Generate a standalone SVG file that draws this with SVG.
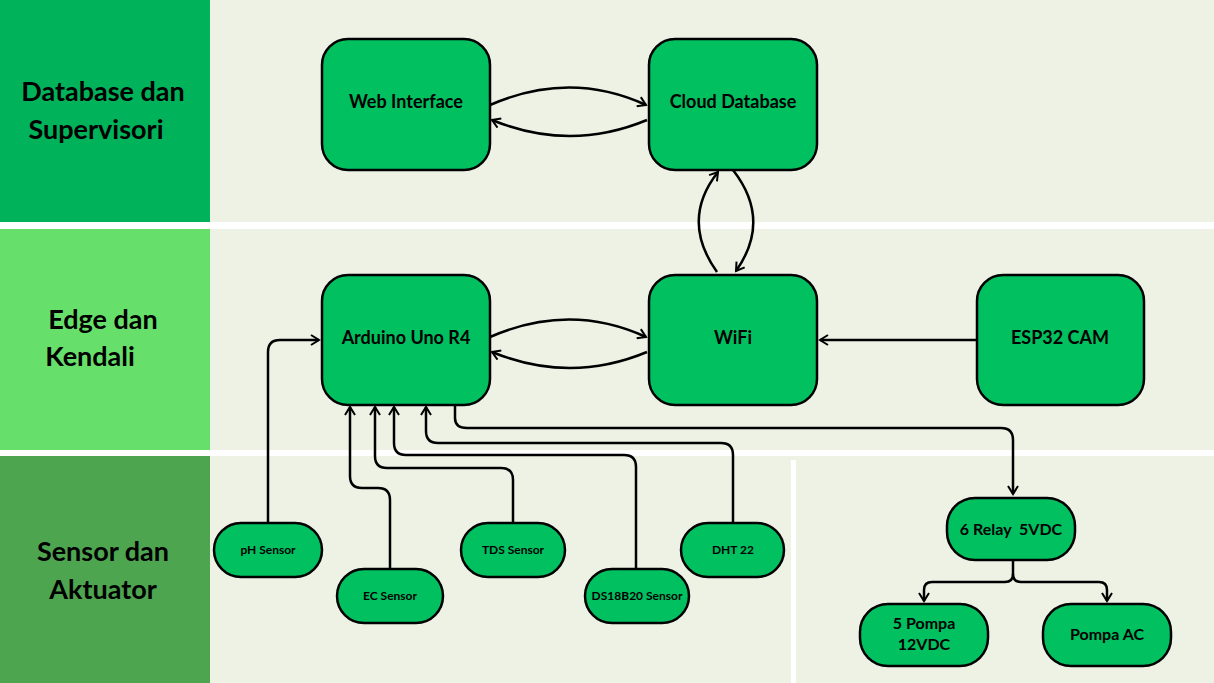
<svg xmlns="http://www.w3.org/2000/svg" width="1214" height="683" viewBox="0 0 1214 683">
<style>
.n{fill:#00c060;stroke:#000;stroke-width:2.5}
.t{font-family:Lato,"Open Sans",sans-serif;font-weight:bold;fill:#000;text-anchor:middle}
.big{font-size:18px}.sm{font-size:12px}.band{font-size:27px}
.c path{fill:none;stroke:#000;stroke-width:2.5}
</style>
<defs><marker id="a" viewBox="0 0 10 10" refX="8" refY="5" markerWidth="5" markerHeight="5" orient="auto-start-reverse" markerUnits="userSpaceOnUse"><path d="M1 1L8 5L1 9" fill="none" stroke="#000" stroke-width="2"/></marker>
<marker id="m" viewBox="0 0 12 12" refX="10" refY="6" markerWidth="12" markerHeight="12" orient="auto" markerUnits="userSpaceOnUse"><path d="M2 1L10 6L2 11" fill="none" stroke="#000" stroke-width="2"/></marker></defs>
<rect width="1214" height="683" fill="#eef2e4"/>
<rect x="0" y="0" width="210" height="222" fill="#00b35a"/>
<rect x="0" y="229" width="210" height="221" fill="#66e06a"/>
<rect x="0" y="456" width="210" height="227" fill="#4ea550"/>
<rect x="0" y="222" width="1214" height="7" fill="#fff"/>
<rect x="0" y="450" width="1214" height="6" fill="#fff"/>
<rect x="791" y="460" width="5" height="223" fill="#fff"/>
<text class="t band" x="103" y="101">Database dan</text><text class="t band" x="96" y="139">Supervisori</text>
<text class="t band" x="103" y="329">Edge dan</text><text class="t band" x="90" y="366">Kendali</text>
<text class="t band" x="103" y="561">Sensor dan</text><text class="t band" x="103" y="599">Aktuator</text>
<g class="c">
<path d="M490 105Q570 70 646 105" marker-end="url(#m)"/>
<path d="M647 120Q570 152 492 120" marker-end="url(#m)"/>
<path d="M490 337Q570 302 646 337" marker-end="url(#m)"/>
<path d="M647 352Q570 384 492 352" marker-end="url(#m)"/>
<path d="M717 272Q680 220 718 172" marker-end="url(#m)"/>
<path d="M733 170Q772 220 736 271" marker-end="url(#m)"/>
<path d="M977 340H820" marker-end="url(#m)"/>
<path d="M268 523V352Q268 340 280 340H319" marker-end="url(#m)"/>
<path d="M390 569V500Q390 488 378 488H362Q350 488 350 476V407" marker-end="url(#m)"/>
<path d="M513 523V480Q513 468 501 468H387Q375 468 375 456V407" marker-end="url(#m)"/>
<path d="M636 569V467Q636 455 624 455H406Q394 455 394 443V407" marker-end="url(#m)"/>
<path d="M733 523V455Q733 443 721 443H438Q426 443 426 431V407" marker-end="url(#m)"/>
<path d="M455 405V418Q455 428 467 428H1001Q1013 428 1013 440V494" marker-end="url(#m)"/>
<path d="M1013 560V574Q1013 582 1005 582H932Q924 582 924 590V601" marker-end="url(#m)"/>
<path d="M1013 574Q1013 582 1021 582H1099Q1107 582 1107 590V601" marker-end="url(#m)"/>
</g>
<g id="web"><rect class="n" x="322" y="39" width="168" height="131" rx="26"/><text class="t big" x="406" y="108">Web Interface</text></g>
<g id="cloud"><rect class="n" x="649" y="39" width="168" height="131" rx="26"/><text class="t big" x="733" y="108">Cloud Database</text></g>
<g id="arduino"><rect class="n" x="322" y="275" width="168" height="130" rx="26"/><text class="t big" x="406" y="344">Arduino Uno R4</text></g>
<g id="wifi"><rect class="n" x="649" y="275" width="168" height="130" rx="26"/><text class="t big" x="733" y="344">WiFi</text></g>
<g id="esp"><rect class="n" x="977" y="275" width="167" height="130" rx="26"/><text class="t big" x="1060" y="344">ESP32 CAM</text></g>
<g id="ph"><rect class="n" x="214" y="523" width="108" height="54" rx="27"/><text class="t sm" x="268" y="554">pH Sensor</text></g>
<g id="ec"><rect class="n" x="337" y="569" width="106" height="54" rx="27"/><text class="t sm" x="390" y="600">EC Sensor</text></g>
<g id="tds"><rect class="n" x="461" y="523" width="104" height="54" rx="27"/><text class="t sm" x="513" y="554">TDS Sensor</text></g>
<g id="ds"><rect class="n" x="585" y="569" width="104" height="54" rx="27"/><text class="t sm" x="637" y="600">DS18B20 Sensor</text></g>
<g id="dht"><rect class="n" x="681" y="523" width="103" height="54" rx="27"/><text class="t sm" x="733" y="554">DHT 22</text></g>
<g id="relay"><rect class="n" x="947" y="498" width="128" height="62" rx="28"/><text class="t" style="font-size:16px" x="1011" y="535" xml:space="preserve">6 Relay  5VDC</text></g>
<g id="pompa5"><rect class="n" x="860" y="604" width="128" height="62" rx="28"/><text class="t" style="font-size:16px" x="924" y="629">5 Pompa</text><text class="t" style="font-size:16px" x="924" y="650">12VDC</text></g>
<g id="pompaac"><rect class="n" x="1043" y="604" width="128" height="62" rx="28"/><text class="t" style="font-size:16px" x="1107" y="640">Pompa AC</text></g>
</svg>
